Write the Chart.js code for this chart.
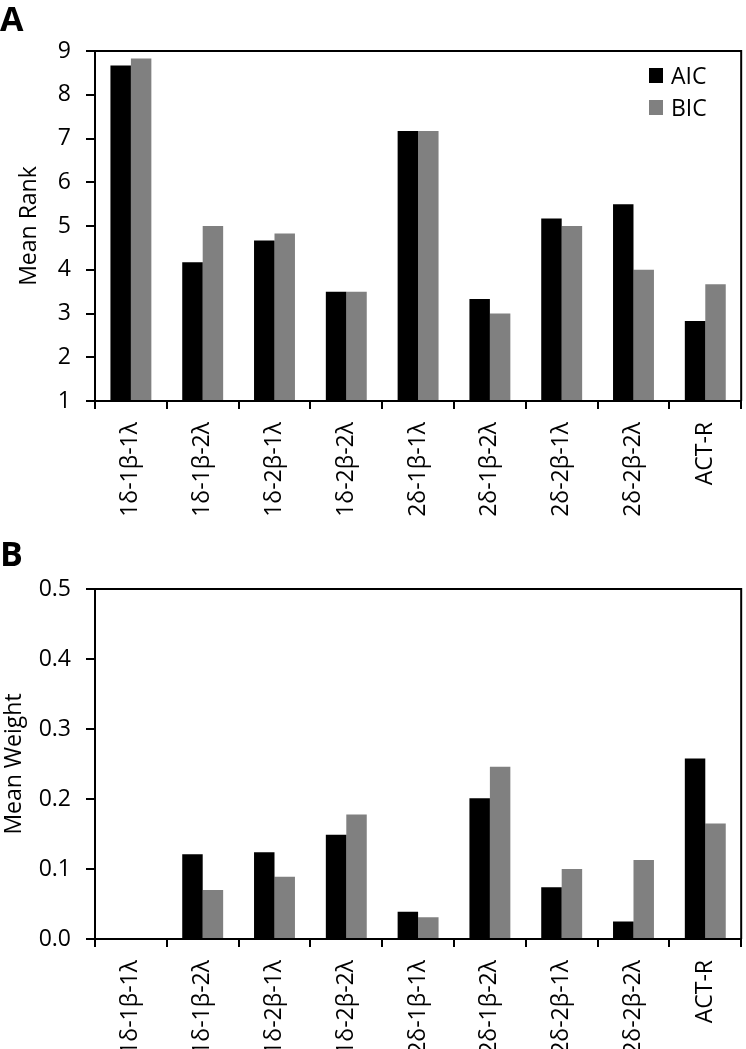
<!DOCTYPE html>
<html>
<head>
<meta charset="utf-8">
<script src="https://cdn.jsdelivr.net/npm/chart.js@4/dist/chart.umd.min.js"></script>
<style>
	body { margin: 0; background: #fff; }
	#wrap { position: relative; width: 746px; height: 1049px; font-family: 'Open Sans', sans-serif; color: #000; }
	canvas { position: absolute; left: 0; }
	.panel { position: absolute; left: 0; font-weight: bold; font-size: 34px; line-height: 1; }
	.key { position: absolute; font-size: 23px; line-height: 1; }
	.key i { position: absolute; left: 0; width: 14px; height: 15px; }
	.key span { position: absolute; left: 22px; top: -4px; }
</style>
</head>
<body>
<div id="wrap">
	<canvas id="rank" width="746" height="525" style="top:0"></canvas>
	<canvas id="weight" width="746" height="524" style="top:525px"></canvas>
	<div class="panel" style="top:1px">A</div>
	<div class="panel" style="top:536px">B</div>
	<div class="key" style="left:649px;top:68px"><i style="background:#000"></i><span>AIC</span></div>
	<div class="key" style="left:649px;top:100px"><i style="background:#808080"></i><span>BIC</span></div>
</div>
<script>
const models = [ '1δ-1β-1λ', '1δ-1β-2λ', '1δ-2β-1λ', '1δ-2β-2λ', '2δ-1β-1λ', '2δ-1β-2λ', '2δ-2β-1λ', '2δ-2β-2λ', 'ACT-R' ];

const rankAIC = [ 8.67, 4.17, 4.67, 3.5, 7.17, 3.33, 5.17, 5.5, 2.83 ];
const rankBIC = [ 8.83, 5.0, 4.83, 3.5, 7.17, 3.0, 5.0, 4.0, 3.67 ];

const weightAIC = [ 0, 0.121, 0.124, 0.149, 0.039, 0.201, 0.074, 0.025, 0.258 ];
const weightBIC = [ 0, 0.070, 0.089, 0.178, 0.031, 0.246, 0.100, 0.113, 0.165 ];

const rankTicks = [ 1, 2, 3, 4, 5, 6, 7, 8, 9 ];
const weightTicks = [ 0, 0.1, 0.2, 0.3, 0.4, 0.5 ];

const font = { family: "'Open Sans', sans-serif", size: 23 };

// top and right edges of the plot box
const frame = {
	id: 'frame',
	afterDraw( chart ) {
		const { ctx, chartArea: a } = chart;
		ctx.save();
		ctx.strokeStyle = '#000';
		ctx.lineWidth = 2;
		ctx.beginPath();
		ctx.moveTo( a.left, a.top );
		ctx.lineTo( a.right, a.top );
		ctx.lineTo( a.right, a.bottom );
		ctx.stroke();
		ctx.restore();
	},
};

function makeChart( id, aic, bic, ticks, opts ) {
	return new Chart( document.getElementById( id ), {
		type: 'bar',
		data: {
			labels: models,
			datasets: [
				{ label: 'AIC', data: aic, backgroundColor: '#000' },
				{ label: 'BIC', data: bic, backgroundColor: '#808080' },
			],
		},
		options: {
			responsive: false,
			animation: false,
			datasets: { bar: { categoryPercentage: 0.57, barPercentage: 1, base: opts.min } },
			layout: { padding: { top: opts.top, right: 2, left: 0, bottom: 0 } },
			plugins: { legend: { display: false }, tooltip: { enabled: false } },
			scales: {
				x: {
					grid: { offset: true, drawOnChartArea: false, color: '#000', lineWidth: 2, tickLength: 8 },
					border: { color: '#000', width: 2 },
					ticks: { color: '#000', font, minRotation: 90, maxRotation: 90, padding: opts.xp, autoSkip: false },
					afterFit: ( s ) => { s.height = opts.xh; },
				},
				y: {
					min: opts.min,
					max: opts.max,
					grid: { drawOnChartArea: false, color: '#000', lineWidth: 2, tickLength: 9 },
					border: { color: '#000', width: 2 },
					ticks: { color: '#000', font, padding: 15, callback: opts.fmt },
					afterBuildTicks: ( s ) => { s.ticks = ticks.map( ( v ) => ( { value: v } ) ); },
					title: { display: true, text: opts.title, color: '#000', font, padding: opts.tp },
					afterFit: ( s ) => { s.width = 95; },
				},
			},
		},
		plugins: [ frame ],
	} );
}

makeChart( 'rank', rankAIC, rankBIC, rankTicks, {
	min: 1, max: 9, top: 51, xh: 124, xp: 13, title: 'Mean Rank', tp: 16,
	fmt: ( v ) => String( v ),
} );

makeChart( 'weight', weightAIC, weightBIC, weightTicks, {
	min: 0, max: 0.5, top: 64, xh: 110, xp: 13, title: 'Mean Weight', tp: 1,
	fmt: ( v ) => Number( v ).toFixed( 1 ),
} );
</script>
</body>
</html>
